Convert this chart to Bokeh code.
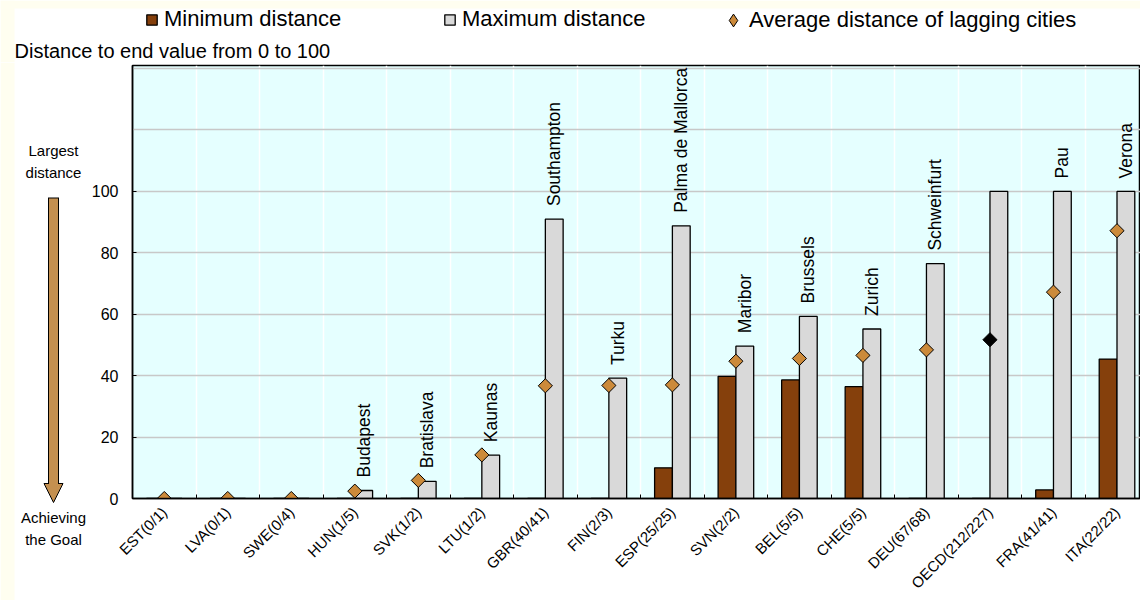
import numpy as np
from math import pi
from bokeh.plotting import figure
from bokeh.layouts import column, row
from bokeh.models import (ColumnDataSource, FixedTicker, Legend, LegendItem, Label,
                          Arrow, NormalHead, Range1d, BoxAnnotation)
from bokeh.core.properties import value
from bokeh.embed import file_html
from bokeh.resources import INLINE

# ---------------- data ----------------
categories = ["EST(0/1)", "LVA(0/1)", "SWE(0/4)", "HUN(1/5)", "SVK(1/2)", "LTU(1/2)",
              "GBR(40/41)", "FIN(2/3)", "ESP(25/25)", "SVN(2/2)", "BEL(5/5)", "CHE(5/5)",
              "DEU(67/68)", "OECD(212/227)", "FRA(41/41)", "ITA(22/22)"]
min_distance = [0, 0, 0, 0, 0, 0, 0, 0, 10.0, 39.8, 38.6, 36.4, 0, 0, 2.8, 45.4]
max_distance = [0, 0, 0, 2.6, 5.6, 14.1, 91.0, 39.2, 88.8, 49.6, 59.3, 55.2, 76.5, 100, 100, 100]
avg_lagging = [0, 0, 0, 2.4, 5.9, 14.2, 36.7, 36.8, 37.0, 44.7, 45.6, 46.6, 48.4, 51.7, 67.2, 87.2]
worst_city = ["", "", "", "Budapest", "Bratislava", "Kaunas", "Southampton", "Turku",
              "Palma de Mallorca", "Maribor", "Brussels", "Zurich", "Schweinfurt", "", "Pau", "Verona"]
y_tick_values = [0, 20, 40, 60, 80, 100]
y_grid_values = [20, 40, 60, 80, 100, 120, 140]

FONT = "Liberation Sans"
MIN_COLOR = "#85400C"
MAX_COLOR = "#D9D9D9"
AVG_COLOR = "#CC8A3A"
ARROW_COLOR = "#C49050"
PAGE_CREAM = "#FFFEF0"

W, H = 1140, 600
HEAD_H = 62
GUIDE_W = 88

n = len(categories)
xs = np.arange(n) + 0.5
avg_colors = ["black" if c.startswith("OECD") else AVG_COLOR for c in categories]

src = ColumnDataSource(dict(
    x_min=xs - 0.14, x_max=xs + 0.14, x=xs,
    mn=min_distance, mx=max_distance, avg=avg_lagging,
    city=worst_city, avg_color=avg_colors,
))


def blank(width, height, xr, yr):
    f = figure(width=width, height=height, x_range=xr, y_range=yr,
               output_backend="svg", toolbar_location=None,
               min_border=0, min_border_left=0, min_border_right=0,
               min_border_top=0, min_border_bottom=0)
    f.axis.visible = False
    f.grid.visible = False
    f.outline_line_color = None
    f.background_fill_color = "white"
    f.border_fill_color = "white"
    return f


# ---------------- main chart ----------------
p = figure(width=W - GUIDE_W, height=H - HEAD_H, x_range=(0, 15.87), y_range=(0, 141),
           output_backend="svg", toolbar_location=None,
           min_border_left=131 - GUIDE_W, min_border_right=0, min_border_top=3,
           min_border_bottom=60)
p.background_fill_color = "#E5FFFF"
p.border_fill_color = "white"
p.outline_line_color = "black"
p.outline_line_width = 1.5

p.xgrid.ticker = FixedTicker(ticks=list(range(1, n)))
p.xgrid.grid_line_color = "white"
p.xgrid.grid_line_width = 1.5
p.ygrid.ticker = FixedTicker(ticks=y_grid_values)
p.ygrid.grid_line_color = "#C8C8C8"
p.ygrid.grid_line_width = 1.5

xa = p.xaxis[0]
xa.ticker = FixedTicker(ticks=list(xs), minor_ticks=list(range(0, n + 1)))
xa.major_label_overrides = {float(x): c for x, c in zip(xs, categories)}
xa.major_label_orientation = pi / 4
xa.major_tick_line_color = None
xa.minor_tick_in = 4
xa.minor_tick_out = 0
xa.minor_tick_line_color = "black"
xa.axis_line_color = "black"
xa.axis_line_width = 1.5
xa.major_label_text_font = FONT
xa.major_label_text_font_size = "15px"
xa.major_label_text_color = "black"
xa.major_label_standoff = 5

ya = p.yaxis[0]
ya.ticker = FixedTicker(ticks=y_tick_values)
ya.major_tick_in = 4
ya.major_tick_out = 0
ya.minor_tick_line_color = None
ya.axis_line_color = "black"
ya.axis_line_width = 1.5
ya.major_label_text_font = FONT
ya.major_label_text_font_size = "16px"
ya.major_label_text_color = "black"
ya.major_label_standoff = 14

p.vbar(x="x_min", top="mn", bottom=0, width=0.28, source=src,
       fill_color=MIN_COLOR, line_color="black", line_width=1.3)
p.vbar(x="x_max", top="mx", bottom=0, width=0.28, source=src,
       fill_color=MAX_COLOR, line_color="black", line_width=1.3)
p.scatter(x="x", y="avg", source=src, marker="square", angle=pi / 4, size=10,
          fill_color="avg_color", line_color="black", line_width=1)

p.text(x="x_max", y="mx", text="city", source=src, angle=pi / 2, y_offset=-13,
       text_align="left", text_baseline="middle", text_font=value(FONT),
       text_font_size="17.5px", text_color="black")

# ---------------- header: legend + subtitle ----------------
head = blank(W, HEAD_H, Range1d(0, W), Range1d(HEAD_H, 0))
head.add_layout(BoxAnnotation(left=0, right=W, top=0, bottom=8, fill_color=PAGE_CREAM,
                              fill_alpha=1, line_color=None, level="underlay"))
head.add_layout(BoxAnnotation(left=0, right=14, top=0, bottom=HEAD_H, fill_color=PAGE_CREAM,
                              fill_alpha=1, line_color=None, level="underlay"))
# legend proxies: same data, hidden (only their legend swatches are shown)
leg_min = head.vbar(x="x_min", top="mn", width=0.28, source=src, visible=False,
                    fill_color=MIN_COLOR, line_color="black", line_width=1.3)
leg_max = head.vbar(x="x_max", top="mx", width=0.28, source=src, visible=False,
                    fill_color=MAX_COLOR, line_color="black", line_width=1.3)
leg_avg = head.scatter(x="x", y="avg", source=src, visible=False, marker="diamond",
                       size=14, fill_color=AVG_COLOR, line_color="black", line_width=1)


def add_legend(label, renderer, loc, glyph=13, standoff=6):
    lg = Legend(items=[LegendItem(label=label, renderers=[renderer])], location=loc,
                orientation="horizontal", glyph_width=glyph, glyph_height=glyph,
                label_standoff=standoff,
                padding=0, margin=0, border_line_color=None, background_fill_alpha=0,
                inactive_fill_alpha=0,
                label_text_font=FONT, label_text_font_size="22px", label_text_color="black",
                label_height=24)
    head.add_layout(lg)


add_legend("Minimum distance", leg_min, (145, 30))
add_legend("Maximum distance", leg_max, (443, 30))
add_legend("Average distance of lagging cities", leg_avg, (717, 26), glyph=32, standoff=0)

head.add_layout(Label(x=14, y=50, text="Distance to end value from 0 to 100",
                      text_font=FONT, text_font_size="20px", text_color="black",
                      text_baseline="middle", text_align="left"))

# ---------------- left guide: arrow ----------------
guide = blank(GUIDE_W, H - HEAD_H, Range1d(0, GUIDE_W), Range1d(H, HEAD_H))
guide.add_layout(BoxAnnotation(left=0, right=14, top=HEAD_H, bottom=H, fill_color=PAGE_CREAM,
                               fill_alpha=1, line_color=None, level="underlay"))
for txt, yy in [("Largest", 150), ("distance", 172), ("Achieving", 517), ("the Goal", 539)]:
    guide.add_layout(Label(x=53, y=yy, text=txt, text_font=FONT, text_font_size="15px",
                           text_color="black", text_align="center", text_baseline="middle"))
guide.add_layout(Arrow(x_start=53, y_start=197, x_end=53, y_end=502,
                       line_color="black", line_width=11, line_cap="butt",
                       end=NormalHead(size=19, fill_color=ARROW_COLOR, line_color="black",
                                      line_width=1)))
guide.add_layout(Arrow(x_start=53, y_start=198, x_end=53, y_end=486,
                       line_color=ARROW_COLOR, line_width=9, line_cap="butt", end=None))

layout = column(head, row(column(guide), p, spacing=0), spacing=0)

out = file_html(layout, INLINE)
open("out.html", "w").write(out)
